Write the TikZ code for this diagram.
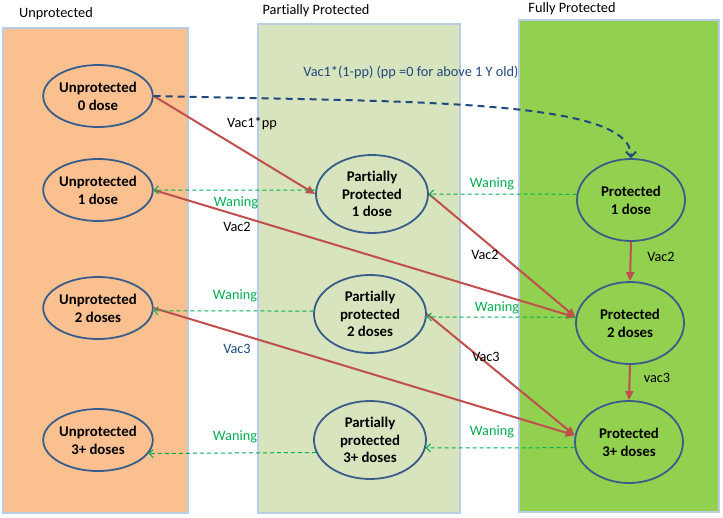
\documentclass[tikz,border=0pt]{standalone}
\usepackage{fontspec}
\setmainfont{Carlito}[Ligatures=NoCommon]
\usetikzlibrary{shapes.geometric,arrows.meta}
\definecolor{peach}{RGB}{250,192,144}
\definecolor{lgreen}{RGB}{215,228,189}
\definecolor{dgreen}{RGB}{146,208,80}
\definecolor{zoneline}{RGB}{185,205,229}
\definecolor{ellline}{RGB}{56,93,138}
\definecolor{redarr}{RGB}{192,80,77}
\definecolor{wangreen}{RGB}{0,176,80}
\definecolor{navy}{RGB}{31,73,125}
\tikzset{
  zone/.style={draw=zoneline, line width=1.5pt},
  title/.style={font=\fontsize{14.3}{17}\selectfont, inner sep=0pt},
  lbl/.style={font=\fontsize{14.3}{17}\selectfont, inner sep=0pt},
  wlbl/.style={lbl, text=wangreen},
  state/.style={ellipse, draw=ellline, line width=1.8pt, align=center, inner sep=0pt,
    font=\bfseries\fontsize{14.8}{17.8}\selectfont},
  ustate/.style={state, minimum width=100pt, minimum height=62pt},
  pstate/.style={state, minimum width=112pt, minimum height=78pt},
  fstate/.style={state, minimum width=108pt, minimum height=82pt},
  vacarrow/.style={draw=redarr, line width=2pt, -{Triangle[length=9pt,width=8pt]}},
  wanarrow/.style={draw=wangreen, line width=1pt, dash pattern=on 4pt off 3pt, -{Straight Barb[length=4pt,width=8pt]}},
  vac1arrow/.style={draw=navy, line width=2pt, dash pattern=on 7pt off 5pt, -{Straight Barb[length=5pt,width=10pt]}}
}
\begin{document}
\begin{tikzpicture}[x=1pt,y=-1pt]
\useasboundingbox (0,0) rectangle (723,517);
\fill[white] (0,0) rectangle (723,517);
% zones
\draw[zone, fill=peach] (3,28) rectangle (188,513);
\draw[zone, fill=lgreen] (258,24) rectangle (460,513);
\draw[zone, fill=dgreen] (519,20) rectangle (719,512);
\node[title] (t1) at (56,14) {Unprotected};
\node[title] (t2) at (316,11) {Partially Protected};
\node[title] (t3) at (572,9) {Fully Protected};
% states
\node[ustate] (U0) at (98,96) {Unprotected\\0 dose};
\node[ustate] (U1) at (98,190) {Unprotected\\1 dose};
\node[ustate] (U2) at (98,308) {Unprotected\\2 doses};
\node[ustate] (U3) at (98,440) {Unprotected\\3+ doses};
\node[pstate] (P1) at (372,194) {Partially\\Protected\\1 dose};
\node[pstate] (P2) at (370,314) {Partially\\protected\\2 doses};
\node[pstate] (P3) at (370,440) {Partially\\protected\\3+ doses};
\node[fstate] (F1) at (631,200) {Protected\\1 dose};
\node[fstate] (F2) at (630,323) {Protected\\2 doses};
\node[fstate] (F3) at (629,442) {Protected\\3+ doses};
% vaccination arrows
\draw[vacarrow] (U0.east) -- (P1.west);
\draw[vacarrow] (U1.east) -- (F2.174);
\draw[vacarrow] (P1.east) -- (F2.174);
\draw[vacarrow] (U2.east) -- (F3.173);
\draw[vacarrow] (P2.east) -- (F3.173);
\draw[vacarrow] (F1.south) -- (F2.north);
\draw[vacarrow] (F2.south) -- (F3.north);
% direct vaccination to full protection
\draw[vac1arrow] (U0.east) .. controls +(250,6) and +(0,-60) .. (F1.north);
% waning arrows
\draw[wanarrow] (P1.176) -- (U1.east);
\draw[wanarrow] (F1.174) -- (P1.east);
\draw[wanarrow] (P2.177) -- (U2.357);
\draw[wanarrow] (F2.174) -- (P2.357);
\draw[wanarrow] (P3.193) -- (U3.345);
\draw[wanarrow] (F3.186) -- (P3.352);
% labels
\node[lbl] (l1) at (252,124) {Vac1*pp};
\node[lbl, text=navy] (l2) at (411,72) {Vac1*(1-pp) (pp =0 for above 1 Y old)};
\node[lbl] (l3) at (237,227) {Vac2};
\node[lbl, text=navy] (l4) at (237,349) {Vac3};
\node[lbl] (l5) at (485,255) {Vac2};
\node[lbl] (l6) at (486,357) {Vac3};
\node[lbl] (l7) at (661,257) {Vac2};
\node[lbl] (l8) at (657,378) {vac3};
\node[wlbl] (w1) at (236,203) {Waning};
\node[wlbl] (w2) at (492,184) {Waning};
\node[wlbl] (w3) at (235,296) {Waning};
\node[wlbl] (w4) at (497,308) {Waning};
\node[wlbl] (w5) at (235,437) {Waning};
\node[wlbl] (w6) at (492,432) {Waning};
\end{tikzpicture}
\end{document}
